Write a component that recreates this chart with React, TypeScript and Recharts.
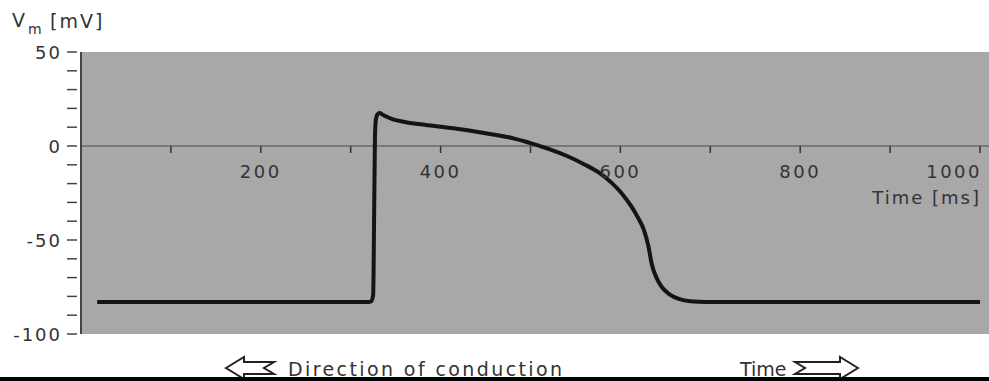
import React from "react"
import { ComposedChart, Line, XAxis, YAxis, ReferenceLine } from "recharts"

// action potential trace
const TIME_MS = [
  18, 320, 323, 325, 326, 327, 328, 330, 332, 336, 347, 360, 380, 400, 420, 440, 460, 480, 500, 520, 540, 560, 575,
  590, 602, 612, 620, 626, 631, 635, 640, 646, 655, 665, 678, 695, 1000,
]
const VM_MV = [
  -83, -83, -82.5, -79, -40, 5, 14, 17, 17.5, 16.5, 14.2, 12.8, 11.4, 10.2, 9.0, 7.6, 6.0, 4.2, 1.5, -1.5, -5.2,
  -9.8, -13.8, -19.5, -25.5, -32, -38.5, -44.5, -53, -63, -70, -75, -79, -81.3, -82.6, -83, -83,
]
const X_TICKS = [100, 200, 300, 400, 500, 600, 700, 800, 900, 1000]
const X_LABELS = [200, 400, 600, 800, 1000]
const Y_TICKS = [-100, -90, -80, -70, -60, -50, -40, -30, -20, -10, 0, 10, 20, 30, 40, 50]
const Y_LABELS = [-100, -50, 0, 50]

const data = TIME_MS.map((t, i) => ({ t, v: VM_MV[i] }))

const W = 989
const H = 381
const TOP = 52
const BOTTOM = 46
const LEFT = 81
const Y_MIN = -100
const Y_MAX = 50
const PLOT_H = H - TOP - BOTTOM - 1 // x axis band is 1px tall
const ZERO_Y = TOP + (PLOT_H * (Y_MAX - 0)) / (Y_MAX - Y_MIN)

const FONT = "'DejaVu Sans', sans-serif"
const TEXT = "#333"

function XTick(props: any) {
  const { x, payload } = props
  const v = payload.value
  const last = v === 1000
  return (
    <g>
      <line x1={x} x2={x} y1={ZERO_Y} y2={ZERO_Y + 7} stroke="#333" strokeWidth={1.5} />
      {X_LABELS.includes(v) && (
        <text
          x={last ? x + 2 : x}
          y={ZERO_Y + 32}
          textAnchor={last ? "end" : "middle"}
          fontFamily={FONT}
          fontSize={18}
          letterSpacing={2.5}
          fill={TEXT}
        >
          {v}
        </text>
      )}
    </g>
  )
}

function YTick(props: any) {
  const { x, y, payload } = props
  const v = payload.value
  return (
    <g>
      <line x1={x - 14} x2={x - 4} y1={y} y2={y} stroke="#444" strokeWidth={1.5} />
      {Y_LABELS.includes(v) && (
        <text x={x - 19} y={y + 7} textAnchor="end" fontFamily={FONT} fontSize={18} letterSpacing={2} fill={TEXT}>
          {v}
        </text>
      )}
    </g>
  )
}

export default function App() {
  return (
    <div style={{ position: "absolute", left: 0, top: 0, width: W, height: H, background: "#fff" }}>
      {/* plot background sits behind the transparent chart svg */}
      <div
        style={{ position: "absolute", left: LEFT, top: TOP, width: W - LEFT, height: PLOT_H, background: "#a8a8a8" }}
      />
      <div style={{ position: "absolute", left: 0, top: 0 }}>
        <ComposedChart width={W} height={H} data={data} margin={{ top: TOP, right: 0, left: 0, bottom: BOTTOM }}>
          <ReferenceLine y={0} stroke="#6a6a6a" strokeWidth={1.5} />
          <XAxis
            dataKey="t"
            type="number"
            domain={[0, 1010]}
            ticks={X_TICKS}
            interval={0}
            height={1}
            axisLine={false}
            tickLine={false}
            tick={<XTick />}
          />
          <YAxis
            type="number"
            domain={[Y_MIN, Y_MAX]}
            ticks={Y_TICKS}
            interval={0}
            width={LEFT}
            tickSize={0}
            tickMargin={0}
            tickLine={false}
            axisLine={{ stroke: "#444", strokeWidth: 2 }}
            tick={<YTick />}
          />
          <Line
            type="monotone"
            dataKey="v"
            stroke="#141414"
            strokeWidth={4}
            dot={false}
            isAnimationActive={false}
          />
        </ComposedChart>
      </div>
      <svg width={W} height={H} style={{ position: "absolute", left: 0, top: 0, pointerEvents: "none" }}>
        <text x={12} y={27} fontFamily={FONT} fontSize={19} fill={TEXT}>
          V
        </text>
        <text x={28} y={34} fontFamily={FONT} fontSize={14} fill={TEXT}>
          m
        </text>
        <text x={50} y={28} fontFamily={FONT} fontSize={19} letterSpacing={2} fill={TEXT}>
          [mV]
        </text>
        <text x={981} y={204} textAnchor="end" fontFamily={FONT} fontSize={18} letterSpacing={2} fill={TEXT}>
          Time [ms]
        </text>
        <polygon
          points="226,368 244,357 244,362 274,362 264,368 274,374 244,374 244,379"
          fill="none"
          stroke="#222"
          strokeWidth={2}
        />
        <text x={288} y={376} fontFamily={FONT} fontSize={19} letterSpacing={2.4} fill={TEXT}>
          Direction of conduction
        </text>
        <text x={740} y={376} fontFamily={FONT} fontSize={19} fill={TEXT}>
          Time
        </text>
        <polygon
          points="858,368 840,357 840,362 795,362 805,368 795,374 840,374 840,379"
          fill="none"
          stroke="#222"
          strokeWidth={2}
        />
        <rect x={0} y={377} width={W} height={4} fill="#000" />
      </svg>
    </div>
  )
}
